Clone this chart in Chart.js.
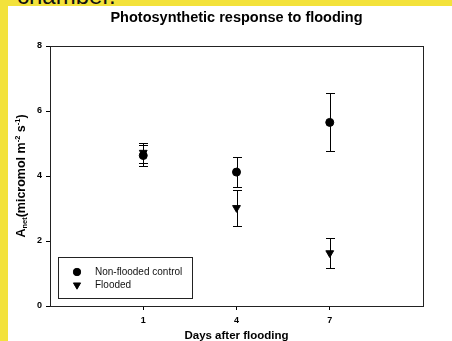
<!DOCTYPE html>
<html>
<head>
<meta charset="utf-8">
<script src="https://cdn.jsdelivr.net/npm/chart.js@4.4.1/dist/chart.umd.min.js"></script>
<style>
  html, body { margin: 0; padding: 0; }
  body { width: 452px; height: 341px; background: #f3e23b; position: relative; overflow: hidden; font-family: Arial, "Liberation Sans", sans-serif; }
  #painel { position: absolute; left: 8px; top: 6px; right: 0; bottom: 0; background: #fff; }
  #legenda-topo { position: absolute; left: 17px; top: -16px; font-size: 24px; line-height: 24px; color: #111; }
  #caixa { position: absolute; left: 0; top: 0; width: 452px; height: 341px; }
</style>
</head>
<body>
<div id="painel"></div>
<div id="legenda-topo">chamber.</div>
<div id="caixa"><canvas id="graficoFlooding" width="452" height="341"></canvas></div>
<script>
// Dias após o alagamento (eixo X)
const dias = [1, 4, 7];
// Médias e erros do controle (não alagado)
const controleMedia = [4.63, 4.12, 5.65];
const controleErro = [0.31, 0.47, 0.89];
// Médias e erros do tratamento alagado
const alagadoMedia = [4.72, 3.02, 1.63];
const alagadoErro = [0.31, 0.56, 0.46];
// Rótulos dos eixos
const ticksX = [1, 4, 7];
const ticksY = [0, 2, 4, 6, 8];

const fonte = 'Arial, "Liberation Sans", sans-serif';

// Barras de erro desenhadas a partir das escalas do gráfico
const barrasErro = {
  id: 'barrasErro',
  beforeDatasetsDraw(chart) {
    const { ctx, scales: { x, y } } = chart;
    ctx.save();
    ctx.strokeStyle = '#000';
    ctx.lineWidth = 1;
    chart.data.datasets.forEach(ds => {
      ds.data.forEach((p, i) => {
        const px = Math.round(x.getPixelForValue(p.x)) + 0.5;
        const topo = Math.round(y.getPixelForValue(p.y + ds.erros[i])) + 0.5;
        const base = Math.round(y.getPixelForValue(p.y - ds.erros[i])) + 0.5;
        ctx.beginPath();
        ctx.moveTo(px, topo); ctx.lineTo(px, base);
        ctx.moveTo(px - 4.5, topo); ctx.lineTo(px + 4.5, topo);
        ctx.moveTo(px - 4.5, base); ctx.lineTo(px + 4.5, base);
        ctx.stroke();
      });
    });
    ctx.restore();
  }
};

// Moldura, títulos e legenda
const extras = {
  id: 'extras',
  afterDraw(chart) {
    const { ctx, chartArea: a } = chart;
    ctx.save();
    // moldura
    ctx.strokeStyle = '#222';
    ctx.lineWidth = 1;
    ctx.strokeRect(Math.round(a.left) + 0.5, Math.round(a.top) + 0.5, Math.round(a.right - a.left), Math.round(a.bottom - a.top));

    // título
    ctx.fillStyle = '#000';
    ctx.textAlign = 'center';
    ctx.textBaseline = 'middle';
    ctx.font = 'bold 14.5px ' + fonte;
    ctx.fillText('Photosynthetic response to flooding', (a.left + a.right) / 2, 18);

    // título do eixo X
    ctx.font = 'bold 11.5px ' + fonte;
    ctx.fillText('Days after flooding', (a.left + a.right) / 2, 336);

    // título do eixo Y com subscrito e sobrescrito
    const partes = [
      ['A', 12.5, 0], ['net', 7.5, 3], ['(micromol m', 12.5, 0], ['-2', 7.5, -4.5],
      [' s', 12.5, 0], ['-1', 7.5, -4.5], [')', 12.5, 0]
    ];
    let largura = 0;
    partes.forEach(([t, s]) => { ctx.font = 'bold ' + s + 'px ' + fonte; largura += ctx.measureText(t).width; });
    ctx.translate(22, (a.top + a.bottom) / 2);
    ctx.rotate(-Math.PI / 2);
    ctx.textAlign = 'left';
    let cx = -largura / 2;
    partes.forEach(([t, s, dy]) => {
      ctx.font = 'bold ' + s + 'px ' + fonte;
      ctx.fillText(t, cx, dy);
      cx += ctx.measureText(t).width;
    });
    ctx.setTransform(1, 0, 0, 1, 0, 0);

    // legenda
    const lx = a.left + 8, ly = a.bottom - 49;
    ctx.strokeStyle = '#222';
    ctx.strokeRect(lx + 0.5, ly + 0.5, 134, 41);
    ctx.font = '10px ' + fonte;
    ctx.textAlign = 'left';
    chart.data.datasets.forEach((ds, i) => {
      const yy = ly + 15 + i * 13;
      Chart.helpers.drawPoint(ctx, {
        pointStyle: ds.pointStyle, radius: ds.pointRadius - 0.3, rotation: ds.pointRotation || 0, borderWidth: 1
      }, lx + 19, yy);
      ctx.fillStyle = '#000';
      ctx.fill();
      ctx.fillStyle = '#111';
      ctx.fillText(ds.label, lx + 37, yy);
    });
    ctx.restore();
  }
};

const ctxFlooding = document.getElementById('graficoFlooding').getContext('2d');

new Chart(ctxFlooding, {
  type: 'scatter',
  data: {
    datasets: [
      {
        label: 'Non-flooded control',
        data: dias.map((d, i) => ({ x: d, y: controleMedia[i] })),
        erros: controleErro,
        pointStyle: 'circle',
        pointRadius: 4,
        backgroundColor: '#000',
        borderColor: '#000',
        borderWidth: 1
      },
      {
        label: 'Flooded',
        data: dias.map((d, i) => ({ x: d, y: alagadoMedia[i] })),
        erros: alagadoErro,
        pointStyle: 'triangle',
        pointRotation: 180,
        pointRadius: 4.5,
        backgroundColor: '#000',
        borderColor: '#000',
        borderWidth: 1
      }
    ]
  },
  options: {
    responsive: false,
    animation: false,
    layout: { padding: { top: 46, right: 29, bottom: 0, left: 0 } },
    plugins: {
      legend: { display: false },
      tooltip: { enabled: false },
      title: { display: false }
    },
    scales: {
      x: {
        type: 'linear',
        min: -2,
        max: 10,
        afterBuildTicks: s => { s.ticks = ticksX.map(v => ({ value: v })); },
        afterFit: s => { s.height = 35; },
        grid: { drawOnChartArea: false, drawTicks: true, tickLength: 4, tickColor: '#000' },
        border: { color: '#222' },
        ticks: { color: '#000', padding: 5, maxRotation: 0, font: { family: fonte, size: 9, weight: 'bold' } }
      },
      y: {
        min: 0,
        max: 8,
        afterBuildTicks: s => { s.ticks = ticksY.map(v => ({ value: v })); },
        afterFit: s => { s.width = 50; },
        grid: { drawOnChartArea: false, drawTicks: true, tickLength: 4, tickColor: '#000' },
        border: { color: '#222' },
        ticks: { color: '#000', padding: 4, font: { family: fonte, size: 9, weight: 'bold' } }
      }
    }
  },
  plugins: [barrasErro, extras]
});
</script>
</body>
</html>
